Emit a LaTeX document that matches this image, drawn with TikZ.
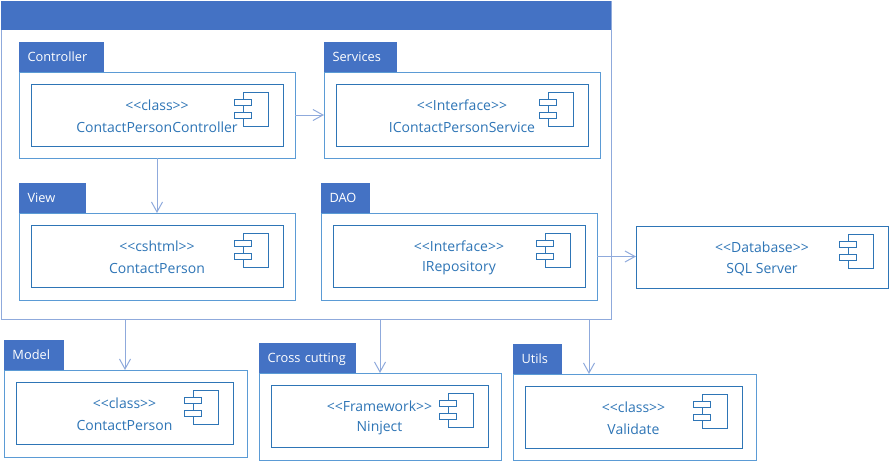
\documentclass[tikz,border=0pt]{standalone}
\usepackage{fontspec}
\setmainfont{Open Sans}
\usetikzlibrary{positioning,arrows.meta}
\definecolor{headblue}{HTML}{4472C4}
\definecolor{boxblue}{HTML}{2E75B6}
\definecolor{midblue}{HTML}{5B9BD5}
\definecolor{linkblue}{HTML}{8FAADC}
\newcommand\cmptabstyle{\fontsize{12.8}{14}\selectfont}
\newcommand\cmptextstyle{\fontsize{14}{16}\selectfont}
\newcommand\cmpwidth{252}
\tikzset{
  framebox/.style={draw=linkblue, line width=1pt, inner sep=0, outer sep=0, anchor=north west},
  headbar/.style={fill=headblue, inner sep=0, outer sep=0, anchor=north west},
  tabbox/.style={fill=headblue, text=white, inner sep=0, outer sep=0, anchor=north west, minimum height=30pt, text height=10pt, text depth=2pt, font=\cmptabstyle},
  pkgbox/.style={draw=midblue, line width=1pt, inner sep=0, outer sep=0, anchor=north west},
  cmpbox/.style={draw=boxblue, line width=1pt, fill=white, inner sep=0, outer sep=0, minimum height=62pt, minimum width=\cmpwidth pt},
  cmplabel/.style={text=boxblue, inner sep=0, font=\cmptextstyle},
  cmpicon/.style={draw=boxblue, line width=.8pt, fill=white},
  link/.style={draw=linkblue, line width=1pt, -{Straight Barb[length=10pt,width=11pt,line width=1pt]}}
}
% name, stereotype, label (component box on its own)
\newcommand\cmpcontent[3]{
  \node[cmplabel] (#1type) at ([yshift=-21pt]#1.north) {<{}<#2>{}>};
  \node[cmplabel] (#1name) at ([yshift=-43.5pt]#1.north) {#3};
  \begin{scope}[shift={(#1.east)}]
    \draw[cmpicon] (-40, -23) rectangle (-15, 11);
    \draw[cmpicon] (-49, -16) rectangle (-32, -10);
    \draw[cmpicon] (-49, -3) rectangle (-32, 3);
  \end{scope}
}
% name, title, x, y, tab width, box width, box height, stereotype, label
\newcommand\cmppackage[9]{
  \node[tabbox, minimum width=#5pt, text width=#5pt-17pt, align=left] (#1tab) at (#3, #4) {#2};
  \node[pkgbox, minimum width=#6pt, minimum height=#7pt] (#1box) at (#1tab.south west) {};
  \node[cmpbox, below right=12pt and 12pt of #1box.north west] (#1) {};
  \cmpcontent{#1}{#8}{#9}
}

\begin{document}
\begin{tikzpicture}[x=1pt, y=-1pt]
  \useasboundingbox (0, 0) rectangle (889, 461);
  \node[framebox, minimum width=610pt, minimum height=318pt] (frame) at (1, 1) {};
  \node[headbar, minimum width=610pt, minimum height=29pt] (head) at (1, 1) {};
  \cmppackage{controller}{Controller}{19}{42}{85}{276}{86}{class}{ContactPersonController}
  \cmppackage{services}{Services}{324}{42}{73}{276}{86}{Interface}{IContactPersonService}
  \cmppackage{view}{View}{19}{183}{67}{276}{87}{cshtml}{ContactPerson}
  \cmppackage{dao}{DAO}{321}{183}{49}{276}{87}{Interface}{IRepository}
  \node[cmpbox, anchor=north west] (database) at (636, 226) {};
  \cmpcontent{database}{Database}{SQL Server}
  % bottom row is narrower
  \renewcommand\cmpwidth{217}
  \cmppackage{model}{Model}{4}{340}{60}{243}{87}{class}{ContactPerson}
  \cmppackage{cross}{Cross cutting}{259}{343}{97}{242}{87}{Framework}{Ninject}
  \cmppackage{utils}{Utils}{513}{344}{49}{243}{86}{class}{Validate}
  \coordinate (modelin) at (125, 370);
  \coordinate (crossin) at (380, 373);
  \coordinate (utilsin) at (589, 374);
  \draw[link] (controllerbox.east) -- (servicesbox.west);
  \draw[link] (controllerbox.south) -- (viewbox.north);
  \draw[link] (daobox.east) -- (daobox.east -| database.west);
  \draw[link] (modelin |- frame.south) -- (modelin);
  \draw[link] (crossin |- frame.south) -- (crossin);
  \draw[link] (utilsin |- frame.south) -- (utilsin);
\end{tikzpicture}
\end{document}
